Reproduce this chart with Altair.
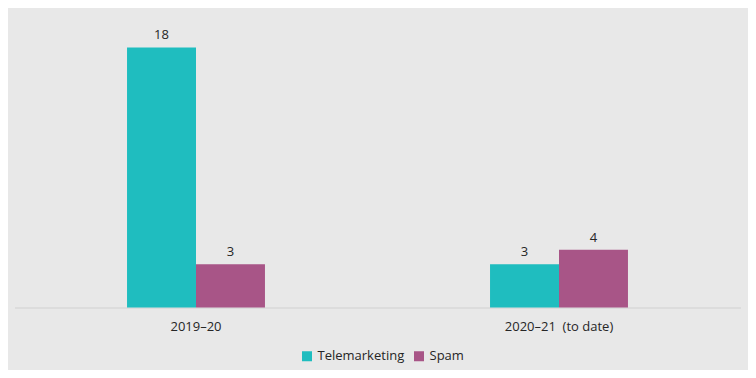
import altair as alt
import pandas as pd

periods = ["2019–20", "2020–21\u00a0 (to date)"]
series = ["Telemarketing", "Spam"]
telemarketing = [18, 3]
spam = [3, 4]
colors = ["#1FBDBF", "#A85587"]

rows = []
for i, p in enumerate(periods):
    rows.append({"period": p, "type": series[0], "count": telemarketing[i]})
    rows.append({"period": p, "type": series[1], "count": spam[i]})
df = pd.DataFrame(rows)

font = "Open Sans"

base = alt.Chart(df).encode(
    x=alt.X("period:N", sort=periods, title=None,
            scale=alt.Scale(paddingInner=0.62, paddingOuter=0.31),
            axis=alt.Axis(labelAngle=0, ticks=False, domainColor="#D0D0D0",
                          labelFontSize=13, labelColor="#262626", labelFont=font,
                          labelPadding=13)),
    xOffset=alt.XOffset("type:N", sort=series,
                        scale=alt.Scale(paddingInner=0, paddingOuter=0)),
    y=alt.Y("count:Q", scale=alt.Scale(domain=[0, 20]), axis=None),
)

bars = base.mark_bar().encode(
    color=alt.Color("type:N", sort=series,
                    scale=alt.Scale(domain=series, range=colors),
                    legend=alt.Legend(title=None, orient="none", direction="horizontal",
                                      legendX=286, legendY=331, symbolType="square",
                                      symbolSize=100, symbolStrokeWidth=0,
                                      labelFontSize=13, labelFont=font, labelOffset=4,
                                      labelColor="#262626", columnPadding=8))
)

labels = base.mark_text(dy=-5, fontSize=13, font=font, color="#262626", baseline="bottom").encode(
    text="count:Q"
)

chart = (bars + labels).properties(
    width=726, height=289,
    background="#E8E8E8",
    autosize=alt.AutoSizeParams(type="none"),
    padding={"left": 6.5, "top": 10.5, "right": 7.5, "bottom": 62},
).configure_view(stroke=None)

chart.save("out.html", embed_options={"renderer": "svg", "actions": False})
